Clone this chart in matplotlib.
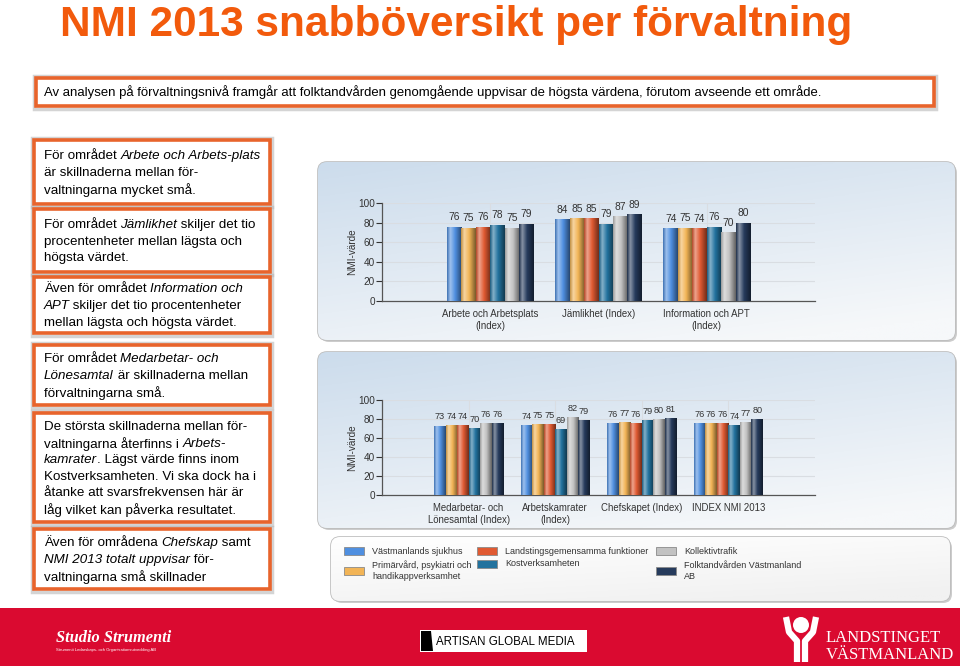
import numpy as np
import matplotlib.pyplot as plt
from matplotlib.patches import FancyBboxPatch, Rectangle, Circle, Polygon
from matplotlib.colors import LinearSegmentedColormap, to_rgb

# --- data -------------------------------------------------------------
series = ["Västmanlands sjukhus",
          "Primärvård, psykiatri och\nhandikappverksamhet",
          "Landstingsgemensamma funktioner",
          "Kostverksamheten",
          "Kollektivtrafik",
          "Folktandvården Västmanland\nAB"]
colors = ['#4F8FE0', '#F2B456', '#E05A32', '#22729E', '#C2C2C2', '#263B5C']

cats_top = ["Arbete och Arbetsplats\n(Index)", "Jämlikhet (Index)", "Information och APT\n(Index)"]
sjukhus_top = [76, 84, 74]
primar_top = [75, 85, 75]
landst_top = [76, 85, 74]
kost_top = [78, 79, 76]
kollektiv_top = [75, 87, 70]
folktand_top = [79, 89, 80]

cats_bot = ["Medarbetar- och\nLönesamtal (Index)", "Arbetskamrater\n(Index)", "Chefskapet (Index)", "INDEX NMI 2013"]
sjukhus_bot = [73, 74, 76, 76]
primar_bot = [74, 75, 77, 76]
landst_bot = [74, 75, 76, 76]
kost_bot = [70, 69, 79, 74]
kollektiv_bot = [76, 82, 80, 77]
folktand_bot = [76, 79, 81, 80]

yticks = [0, 20, 40, 60, 80, 100]

title = "NMI 2013 snabböversikt per förvaltning"
summary = ("Av analysen på förvaltningsnivå framgår att folktandvården genomgående "
           "uppvisar de högsta värdena, förutom avseende ett område.")

# text boxes: list of lines, each line list of (text, italic)
notes = [
    [[("För området ", 0), ("Arbete och Arbets-plats", 1)],
     [("är skillnaderna mellan för-", 0)],
     [("valtningarna mycket små.", 0)]],
    [[("För området ", 0), ("Jämlikhet", 1), (" skiljer det tio", 0)],
     [("procentenheter mellan lägsta och", 0)],
     [("högsta värdet.", 0)]],
    [[("Även för området ", 0), ("Information och", 1)],
     [("APT", 1), (" skiljer det tio procentenheter", 0)],
     [("mellan lägsta och högsta värdet.", 0)]],
    [[("För området ", 0), ("Medarbetar- och", 1)],
     [("Lönesamtal", 1), (" är skillnaderna mellan", 0)],
     [("förvaltningarna små.", 0)]],
    [[("De största skillnaderna mellan för-", 0)],
     [("valtningarna återfinns i ", 0), ("Arbets-", 1)],
     [("kamrater", 1), (". Lägst värde finns inom", 0)],
     [("Kostverksamheten. Vi ska dock ha i", 0)],
     [("åtanke att svarsfrekvensen här är", 0)],
     [("låg vilket kan påverka resultatet.", 0)]],
    [[("Även för områdena ", 0), ("Chefskap", 1), (" samt", 0)],
     [("NMI 2013 totalt uppvisar", 1), (" för-", 0)],
     [("valtningarna små skillnader", 0)]],
]
note_boxes = [(140, 204), (209, 272), (277, 333), (345, 405), (413, 522), (529, 589)]

# --- fonts ------------------------------------------------------------
plt.rcParams['font.family'] = ['Liberation Sans', 'DejaVu Sans']
tick_fs = 7.2
cat_fs = 6.9
leg_fs = 6.5

W, H = 960, 666
fig = plt.figure(figsize=(W / 100, H / 100), dpi=100)
bg = fig.add_axes([0, 0, 1, 1])
bg.set_xlim(0, W)
bg.set_ylim(H, 0)
bg.axis('off')
renderer = fig.canvas.get_renderer()

ORANGE = '#E8642C'


def text_w(s, **kw):
    t = bg.text(0, 0, s + '.', **kw)
    w1 = t.get_window_extent(renderer=renderer).width
    t.remove()
    t = bg.text(0, 0, '.', **kw)
    w2 = t.get_window_extent(renderer=renderer).width
    t.remove()
    return w1 - w2


def rich_line(x, y, segs, size):
    for s, it in segs:
        kw = dict(fontsize=size, style='italic' if it else 'normal', color='black')
        bg.text(x, y, s, va='center', ha='left', **kw)
        x += text_w(s, **kw)


def orange_box(x0, y0, x1, y1):
    bg.add_patch(Rectangle((x0 - 2, y0 - 2), x1 - x0 + 4, y1 - y0 + 5, fc='none',
                           ec='#B8B8B8', lw=2.5, alpha=0.6))
    bg.add_patch(Rectangle((x0, y0), x1 - x0, y1 - y0, fc='white', ec=ORANGE, lw=2.6))


def panel(x0, y0, x1, y1, top, bottom):
    bg.add_patch(FancyBboxPatch((x0 + 2, y0 + 2), x1 - x0, y1 - y0,
                                boxstyle='round,pad=0,rounding_size=9',
                                fc='#9A9A9A', ec='none', alpha=0.5))
    p = FancyBboxPatch((x0, y0), x1 - x0, y1 - y0, boxstyle='round,pad=0,rounding_size=9',
                       fc='white', ec='#BDBDBD', lw=1.2)
    bg.add_patch(p)
    yy = np.linspace(0, 1, 100)[:, None]
    xx = np.linspace(0, 1, 100)[None, :]
    t = np.clip(0.75 * yy + 0.35 * xx, 0, 1)
    top, bottom = np.array(to_rgb(top)), np.array(to_rgb(bottom))
    img = top[None, None, :] * (1 - t[..., None]) + bottom[None, None, :] * t[..., None]
    im = bg.imshow(img, extent=(x0, x1, y1, y0), aspect='auto', zorder=1)
    im.set_clip_path(p)


# --- title and summary -------------------------------------------------
bg.text(60, 36, title, fontsize=30.5, fontweight='bold', color='#F25A0C',
        va='baseline', ha='left')
orange_box(36, 78, 934, 106)
bg.text(44, 92, summary, fontsize=9.45, va='center', ha='left')

for (y0, y1), lines in zip(note_boxes, notes):
    orange_box(34, y0, 270, y1)
    n = len(lines)
    step = 16.6
    ystart = (y0 + y1) / 2 - step * (n - 1) / 2 + 1
    for k, segs in enumerate(lines):
        rich_line(44, ystart + k * step, segs, 9.6)

# --- chart panels -----------------------------------------------------
panel(318, 162, 955, 340, '#CCDCEC', '#F6F8FA')
panel(318, 352, 955, 528, '#CCDCEC', '#F6F8FA')
panel(331, 537, 950, 601, '#FFFFFF', '#F1F1F1')


def grad_bar(ax, bar, color):
    c = np.array(to_rgb(color))
    light = c + (1 - c) * 0.45
    cmap = LinearSegmentedColormap.from_list(
        'g', [(0.0, c * 0.8), (0.22, light), (0.55, c), (1.0, c * 0.5)])
    x0 = bar.get_x()
    w, h = bar.get_width(), bar.get_height()
    im = ax.imshow(np.linspace(0, 1, 64)[None, :], cmap=cmap, extent=(x0, x0 + w, 0, h),
                   aspect='auto', zorder=3, interpolation='bilinear')
    im.set_clip_path(bar)


def chart(rect_px, cats, data, val_fs):
    l, t, r, b = rect_px
    ax = fig.add_axes([l / W, 1 - b / H, (r - l) / W, (b - t) / H])
    ax.patch.set_alpha(0)
    n = len(cats)
    x = np.arange(n)
    w = 0.8 / len(data)
    for i, vals in enumerate(data):
        bars = ax.bar(x + (i - (len(data) - 1) / 2) * w, vals, w, color=colors[i],
                      edgecolor='none', zorder=2)
        for bar, v in zip(bars, vals):
            grad_bar(ax, bar, colors[i])
            ax.annotate(str(v), (bar.get_x() + w / 2, v), xytext=(0, 3),
                        textcoords='offset points', ha='center', va='bottom',
                        fontsize=val_fs, color='#333333', annotation_clip=False)
    ax.set_xlim(-1, n)
    ax.set_ylim(0, 100)
    ax.set_yticks(yticks)
    ax.set_xticks(x)
    ax.set_xticklabels(cats, fontsize=cat_fs, color='#333333', linespacing=1.2)
    ax.tick_params(axis='y', labelsize=tick_fs, colors='#333333', length=4,
                   width=0.8, pad=1)
    ax.tick_params(axis='x', length=0, pad=6)
    ax.grid(True, color='#D9DDE2', lw=0.8, zorder=0)
    ax.set_axisbelow(True)
    for s in ['top', 'right']:
        ax.spines[s].set_visible(False)
    for s in ['left', 'bottom']:
        ax.spines[s].set_color('#555555')
        ax.spines[s].set_linewidth(0.9)
    ax.set_ylabel('NMI-värde', fontsize=tick_fs, color='#333333', labelpad=1)
    return ax


chart((382, 203, 815, 301), cats_top,
      [sjukhus_top, primar_top, landst_top, kost_top, kollektiv_top, folktand_top], 7.4)
chart((382, 400, 815, 495), cats_bot,
      [sjukhus_bot, primar_bot, landst_bot, kost_bot, kollektiv_bot, folktand_bot], 6.6)

# --- legend -------------------------------------------------------------
leg_pos = [(344, 551), (344, 571), (477, 551), (477, 564), (656, 551), (656, 571)]
for (lx, ly), name, col in zip(leg_pos, series, colors):
    bg.add_patch(Rectangle((lx, ly - 4), 20, 8, fc=col, ec='#8A8A8A', lw=0.6, zorder=3))
    bg.text(lx + 28, ly, name, fontsize=leg_fs, color='#333333',
            va='center', ha='left', linespacing=1.25, zorder=3)

# --- footer -------------------------------------------------------------
bg.add_patch(Rectangle((0, 608), W, 58, fc='#DA0A30', ec='none'))
bg.text(56, 638, 'Studio Strumenti', fontsize=11.8, family='Liberation Serif', style='italic',
        fontweight='bold', color='white', va='center', ha='left')
bg.text(56, 650, 'Strumenti Ledarskaps- och Organisationsutveckling AB', fontsize=3,
        color='white', va='center', ha='left')
bg.add_patch(Rectangle((420, 630), 167, 22, fc='white', ec='none'))
bg.add_patch(Polygon([(421, 631), (431, 631), (433, 651), (421, 651)], closed=True,
                     fc='black', ec='none'))
bg.text(436, 642, 'ARTISAN GLOBAL MEDIA', fontsize=8.3, color='black', va='center', ha='left')
bg.add_patch(Circle((801, 625), 8, fc='white', ec='none'))
bg.plot([786, 789, 797, 797], [617, 632, 641, 662], color='white', lw=4.5,
        solid_capstyle='butt')
bg.plot([816, 813, 805, 805], [617, 632, 641, 662], color='white', lw=4.5,
        solid_capstyle='butt')
bg.text(826, 638, 'LANDSTINGET', fontsize=12, family='Liberation Serif', color='white',
        va='center', ha='left')
bg.text(826, 655, 'VÄSTMANLAND', fontsize=12, family='Liberation Serif', color='white',
        va='center', ha='left')

bg.set_xlim(0, W)
bg.set_ylim(H, 0)
fig.savefig('out.png', dpi=100)
